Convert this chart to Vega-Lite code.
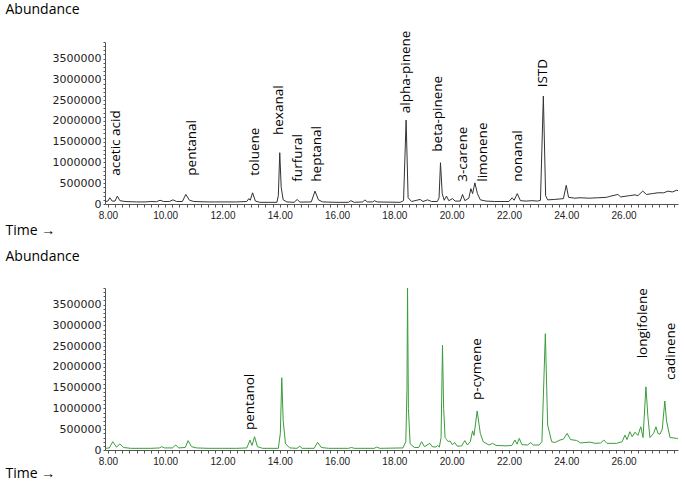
{
  "$schema": "https://vega.github.io/schema/vega-lite/v6.json",
  "padding": {"left": 5, "top": 2, "right": 5, "bottom": 5},
  "spacing": 12,
  "config": {
    "view": {"stroke": null},
    "axis": {"grid": false, "domainColor": "#555", "tickColor": "#555", "labelColor": "#222", "titleFont": "Open Sans", "titleFontSize": 14, "titleFontWeight": "normal", "titleColor": "#000", "titleAngle": 0, "titleAlign": "left", "titleBaseline": "top", "labelOverlap": false},
    "axisX": {
      "labelFlush": false, "labelBound": false,
      "labelFont": "Liberation Sans", "labelFontSize": 10, "labelPadding": 3,
      "tickSize": 3
    },
    "axisY": {
      "labelFlush": false, "labelBound": false,
      "labelFont": "DejaVu Sans", "labelFontSize": 11, "labelPadding": 2, "labelBaseline": "middle",
      "tickSize": 2
    }
  },
  "datasets": {
    "top": [
      {"t":7.9,"a":60000},{"t":8.0,"a":70000},{"t":8.07,"a":150000},{"t":8.15,"a":70000},{"t":8.25,"a":70000},{"t":8.33,"a":190000},{"t":8.42,"a":80000},{"t":8.6,"a":60000},{"t":9.0,"a":50000},{"t":9.3,"a":50000},{"t":9.5,"a":60000},{"t":9.7,"a":55000},{"t":9.82,"a":90000},{"t":9.95,"a":60000},{"t":10.15,"a":60000},{"t":10.27,"a":100000},{"t":10.4,"a":60000},{"t":10.6,"a":60000},{"t":10.72,"a":230000},{"t":10.85,"a":90000},{"t":11.0,"a":60000},{"t":11.5,"a":50000},{"t":12.0,"a":50000},{"t":12.5,"a":50000},{"t":12.85,"a":60000},{"t":12.92,"a":130000},{"t":12.97,"a":90000},{"t":13.05,"a":270000},{"t":13.15,"a":70000},{"t":13.3,"a":40000},{"t":13.9,"a":40000},{"t":13.95,"a":200000},{"t":14.0,"a":1235000},{"t":14.05,"a":400000},{"t":14.12,"a":100000},{"t":14.25,"a":50000},{"t":14.5,"a":40000},{"t":14.61,"a":110000},{"t":14.7,"a":45000},{"t":15.1,"a":50000},{"t":15.23,"a":310000},{"t":15.35,"a":100000},{"t":15.5,"a":50000},{"t":16.0,"a":40000},{"t":16.4,"a":40000},{"t":16.48,"a":80000},{"t":16.6,"a":40000},{"t":16.9,"a":50000},{"t":16.97,"a":100000},{"t":17.05,"a":50000},{"t":17.25,"a":50000},{"t":17.3,"a":80000},{"t":17.4,"a":50000},{"t":18.2,"a":40000},{"t":18.32,"a":80000},{"t":18.41,"a":2020000},{"t":18.48,"a":150000},{"t":18.6,"a":60000},{"t":18.9,"a":110000},{"t":19.0,"a":60000},{"t":19.16,"a":100000},{"t":19.3,"a":60000},{"t":19.5,"a":60000},{"t":19.56,"a":150000},{"t":19.61,"a":994000},{"t":19.67,"a":250000},{"t":19.74,"a":90000},{"t":19.82,"a":190000},{"t":19.9,"a":80000},{"t":20.03,"a":130000},{"t":20.12,"a":70000},{"t":20.3,"a":70000},{"t":20.38,"a":230000},{"t":20.46,"a":80000},{"t":20.6,"a":140000},{"t":20.67,"a":370000},{"t":20.73,"a":250000},{"t":20.81,"a":510000},{"t":20.9,"a":250000},{"t":21.0,"a":100000},{"t":21.2,"a":70000},{"t":21.5,"a":60000},{"t":22.0,"a":60000},{"t":22.11,"a":150000},{"t":22.18,"a":90000},{"t":22.29,"a":250000},{"t":22.4,"a":80000},{"t":22.6,"a":70000},{"t":22.8,"a":80000},{"t":23.0,"a":70000},{"t":23.1,"a":90000},{"t":23.2,"a":2600000},{"t":23.28,"a":200000},{"t":23.35,"a":100000},{"t":23.6,"a":110000},{"t":23.9,"a":130000},{"t":24.0,"a":450000},{"t":24.08,"a":160000},{"t":24.3,"a":140000},{"t":24.48,"a":150000},{"t":24.8,"a":140000},{"t":25.1,"a":150000},{"t":25.4,"a":160000},{"t":25.5,"a":180000},{"t":25.8,"a":230000},{"t":25.9,"a":170000},{"t":26.2,"a":200000},{"t":26.4,"a":220000},{"t":26.5,"a":200000},{"t":26.67,"a":310000},{"t":26.8,"a":230000},{"t":27.0,"a":250000},{"t":27.2,"a":270000},{"t":27.4,"a":270000},{"t":27.55,"a":310000},{"t":27.7,"a":290000},{"t":27.85,"a":330000},{"t":27.9,"a":320000}
    ],
    "topLab": [
      {"name":"acetic acid","t":8.30,"a":681000},{"name":"pentanal","t":10.94,"a":681000},{"name":"toluene","t":13.13,"a":681000},{"name":"hexanal","t":13.98,"a":1661000},{"name":"furfural","t":14.62,"a":537000},{"name":"heptanal","t":15.29,"a":537000},{"name":"alpha-pinene","t":18.40,"a":2184000},{"name":"beta-pinene","t":19.54,"a":1259000},{"name":"3-carene","t":20.38,"a":537000},{"name":"limonene","t":21.10,"a":537000},{"name":"nonanal","t":22.32,"a":537000},{"name":"ISTD","t":23.19,"a":2809000}
    ],
    "bot": [
      {"t":7.9,"a":40000},{"t":8.05,"a":50000},{"t":8.17,"a":200000},{"t":8.3,"a":70000},{"t":8.42,"a":145000},{"t":8.55,"a":60000},{"t":8.8,"a":40000},{"t":9.5,"a":40000},{"t":9.8,"a":50000},{"t":9.88,"a":80000},{"t":9.98,"a":50000},{"t":10.25,"a":50000},{"t":10.37,"a":120000},{"t":10.47,"a":50000},{"t":10.7,"a":60000},{"t":10.8,"a":225000},{"t":10.92,"a":80000},{"t":11.1,"a":50000},{"t":11.5,"a":40000},{"t":12.0,"a":40000},{"t":12.5,"a":40000},{"t":12.85,"a":50000},{"t":12.96,"a":240000},{"t":13.03,"a":110000},{"t":13.12,"a":320000},{"t":13.22,"a":80000},{"t":13.4,"a":40000},{"t":13.95,"a":40000},{"t":14.02,"a":400000},{"t":14.07,"a":1740000},{"t":14.12,"a":700000},{"t":14.2,"a":150000},{"t":14.35,"a":50000},{"t":14.6,"a":40000},{"t":14.7,"a":90000},{"t":14.78,"a":40000},{"t":15.2,"a":40000},{"t":15.32,"a":185000},{"t":15.45,"a":60000},{"t":15.7,"a":40000},{"t":16.4,"a":40000},{"t":16.5,"a":60000},{"t":16.6,"a":40000},{"t":17.3,"a":40000},{"t":17.38,"a":70000},{"t":17.5,"a":40000},{"t":18.3,"a":50000},{"t":18.4,"a":200000},{"t":18.44,"a":1500000},{"t":18.46,"a":3900000},{"t":18.49,"a":1000000},{"t":18.55,"a":150000},{"t":18.7,"a":60000},{"t":18.85,"a":60000},{"t":18.95,"a":200000},{"t":19.05,"a":80000},{"t":19.24,"a":160000},{"t":19.32,"a":80000},{"t":19.45,"a":70000},{"t":19.51,"a":110000},{"t":19.57,"a":70000},{"t":19.63,"a":300000},{"t":19.68,"a":2520000},{"t":19.72,"a":1000000},{"t":19.77,"a":300000},{"t":19.82,"a":255000},{"t":19.88,"a":200000},{"t":19.94,"a":220000},{"t":20.02,"a":130000},{"t":20.11,"a":175000},{"t":20.2,"a":90000},{"t":20.35,"a":100000},{"t":20.46,"a":225000},{"t":20.55,"a":120000},{"t":20.65,"a":200000},{"t":20.73,"a":460000},{"t":20.78,"a":350000},{"t":20.89,"a":940000},{"t":21.0,"a":400000},{"t":21.1,"a":200000},{"t":21.3,"a":120000},{"t":21.43,"a":160000},{"t":21.55,"a":110000},{"t":21.9,"a":100000},{"t":22.1,"a":110000},{"t":22.21,"a":240000},{"t":22.28,"a":140000},{"t":22.36,"a":280000},{"t":22.45,"a":130000},{"t":22.65,"a":120000},{"t":22.76,"a":180000},{"t":22.85,"a":120000},{"t":23.05,"a":120000},{"t":23.15,"a":200000},{"t":23.27,"a":2800000},{"t":23.35,"a":600000},{"t":23.49,"a":200000},{"t":23.6,"a":180000},{"t":23.78,"a":240000},{"t":23.9,"a":260000},{"t":24.03,"a":400000},{"t":24.15,"a":250000},{"t":24.36,"a":230000},{"t":24.5,"a":170000},{"t":24.83,"a":190000},{"t":25.0,"a":160000},{"t":25.2,"a":170000},{"t":25.31,"a":240000},{"t":25.42,"a":160000},{"t":25.76,"a":160000},{"t":25.95,"a":200000},{"t":26.05,"a":360000},{"t":26.12,"a":250000},{"t":26.22,"a":440000},{"t":26.3,"a":320000},{"t":26.4,"a":430000},{"t":26.5,"a":350000},{"t":26.6,"a":560000},{"t":26.68,"a":300000},{"t":26.78,"a":1520000},{"t":26.85,"a":800000},{"t":26.92,"a":300000},{"t":27.05,"a":400000},{"t":27.13,"a":560000},{"t":27.2,"a":400000},{"t":27.27,"a":380000},{"t":27.35,"a":500000},{"t":27.44,"a":1180000},{"t":27.5,"a":700000},{"t":27.62,"a":300000},{"t":27.75,"a":290000},{"t":27.85,"a":280000},{"t":27.9,"a":270000}
    ],
    "botLab": [
      {"name":"pentanol","t":12.96,"a":481000},{"name":"p-cymene","t":20.87,"a":1204000},{"name":"longifolene","t":26.69,"a":2208000},{"name":"cadinene","t":27.64,"a":1685000}
    ]
  },
  "vconcat": [
    {
      "width": 573, "height": 162,
      "encoding": {
        "x": {"field": "t", "type": "quantitative", "scale": {"domain": [7.9, 27.9], "nice": false, "zero": false}, "axis": {"title": "Time →", "titleX": -100, "titleY": 19, "labelOverlap": false,
          "values": [8,8.25,8.5,8.75,9,9.25,9.5,9.75,10,10.25,10.5,10.75,11,11.25,11.5,11.75,12,12.25,12.5,12.75,13,13.25,13.5,13.75,14,14.25,14.5,14.75,15,15.25,15.5,15.75,16,16.25,16.5,16.75,17,17.25,17.5,17.75,18,18.25,18.5,18.75,19,19.25,19.5,19.75,20,20.25,20.5,20.75,21,21.25,21.5,21.75,22,22.25,22.5,22.75,23,23.25,23.5,23.75,24,24.25,24.5,24.75,25,25.25,25.5,25.75,26,26.25,26.5,26.75,27,27.25,27.5,27.75],
          "labelExpr": "datum.value % 2 === 0 ? format(datum.value, '.2f') : ''"}},
        "y": {"field": "a", "type": "quantitative", "scale": {"domain": [0, 3900000], "nice": false}, "axis": {"title": "Abundance", "titleX": -100, "titleY": -40, "labelOverlap": false,
          "values": [0,100000,200000,300000,400000,500000,600000,700000,800000,900000,1000000,1100000,1200000,1300000,1400000,1500000,1600000,1700000,1800000,1900000,2000000,2100000,2200000,2300000,2400000,2500000,2600000,2700000,2800000,2900000,3000000,3100000,3200000,3300000,3400000,3500000,3600000,3700000,3800000,3900000],
          "labelExpr": "datum.value % 500000 === 0 ? format(datum.value, 'd') : ''"}}
      },
      "layer": [
        {
          "data": {"name": "top"},
          "mark": {"type": "line", "color": "#333333", "strokeWidth": 1, "clip": true}
        },
        {
          "data": {"name": "topLab"},
          "mark": {"type": "text", "angle": 270, "align": "left", "baseline": "middle", "font": "Open Sans", "fontSize": 13.5, "color": "#000"},
          "encoding": {"text": {"field": "name"}}
        }
      ]
    },
    {
      "width": 573, "height": 162,
      "encoding": {
        "x": {"field": "t", "type": "quantitative", "scale": {"domain": [7.9, 27.9], "nice": false, "zero": false}, "axis": {"title": "Time →", "titleX": -100, "titleY": 16, "labelOverlap": false,
          "values": [8,8.25,8.5,8.75,9,9.25,9.5,9.75,10,10.25,10.5,10.75,11,11.25,11.5,11.75,12,12.25,12.5,12.75,13,13.25,13.5,13.75,14,14.25,14.5,14.75,15,15.25,15.5,15.75,16,16.25,16.5,16.75,17,17.25,17.5,17.75,18,18.25,18.5,18.75,19,19.25,19.5,19.75,20,20.25,20.5,20.75,21,21.25,21.5,21.75,22,22.25,22.5,22.75,23,23.25,23.5,23.75,24,24.25,24.5,24.75,25,25.25,25.5,25.75,26,26.25,26.5,26.75,27,27.25,27.5,27.75],
          "labelExpr": "datum.value % 2 === 0 ? format(datum.value, '.2f') : ''"}},
        "y": {"field": "a", "type": "quantitative", "scale": {"domain": [0, 3900000], "nice": false}, "axis": {"title": "Abundance", "titleX": -100, "titleY": -39, "labelOverlap": false,
          "values": [0,100000,200000,300000,400000,500000,600000,700000,800000,900000,1000000,1100000,1200000,1300000,1400000,1500000,1600000,1700000,1800000,1900000,2000000,2100000,2200000,2300000,2400000,2500000,2600000,2700000,2800000,2900000,3000000,3100000,3200000,3300000,3400000,3500000,3600000,3700000,3800000,3900000],
          "labelExpr": "datum.value % 500000 === 0 ? format(datum.value, 'd') : ''"}}
      },
      "layer": [
        {
          "data": {"name": "bot"},
          "mark": {"type": "line", "color": "#3a9d3a", "strokeWidth": 1, "clip": true}
        },
        {
          "data": {"name": "botLab"},
          "mark": {"type": "text", "angle": 270, "align": "left", "baseline": "middle", "font": "Open Sans", "fontSize": 13.5, "color": "#000"},
          "encoding": {"text": {"field": "name"}}
        }
      ]
    }
  ]
}
